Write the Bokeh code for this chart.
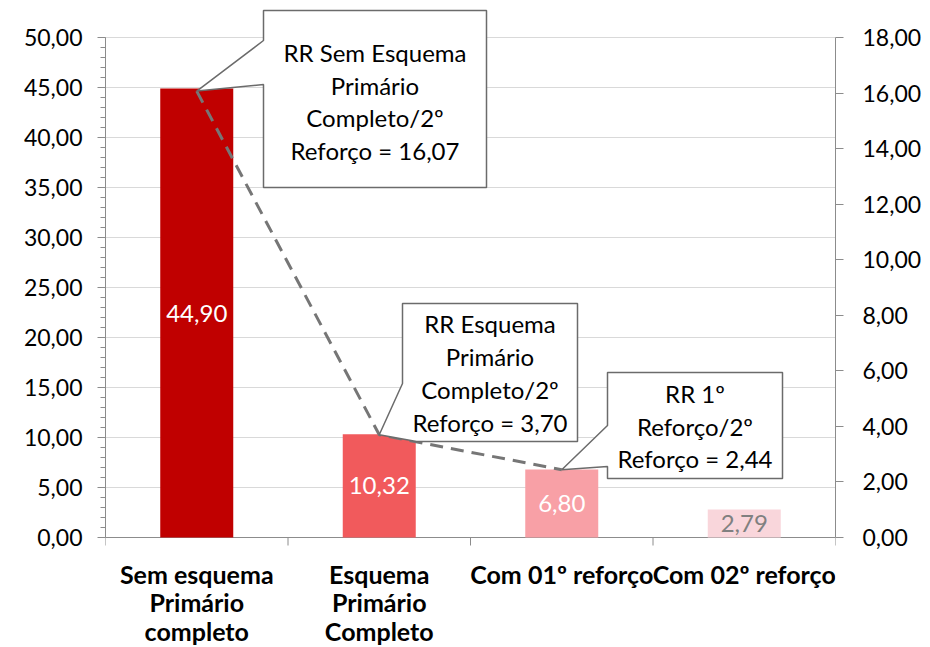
from bokeh.plotting import figure
from bokeh.models import (Range1d, LinearAxis, FixedTicker, CustomJSTickFormatter,
                          ColumnDataSource)
from bokeh.embed import file_html
from bokeh.resources import INLINE
from bokeh.core.properties import value

# ---------------- data ----------------
categories = ["Sem esquema\nPrimário\ncompleto", "Esquema\nPrimário\nCompleto",
              "Com 01º reforço", "Com 02º reforço"]
incidence = [44.90, 10.32, 6.80, 2.79]
bar_colors = ["#C00000", "#F15A5C", "#F8A0A6", "#F9D6DB"]
bar_label_colors = ["#FFFFFF", "#FFFFFF", "#FFFFFF", "#808080"]
rr_values = [16.07, 3.70, 2.44]
rr_texts = [["RR Sem Esquema", "Primário", "Completo/2º", "Reforço = 16,07"],
            ["RR Esquema", "Primário", "Completo/2º", "Reforço = 3,70"],
            ["RR 1º", "Reforço/2º", "Reforço = 2,44"]]
left_ticks = [0, 5, 10, 15, 20, 25, 30, 35, 40, 45, 50]
left_minor = list(range(0, 51))
right_ticks = [0, 2, 4, 6, 8, 10, 12, 14, 16, 18]

FONT = "Lato"
FS = "23px"
FS_BIG = "24px"
FS_CAT = "25px"
GRAY = "#8C8C8C"

# ---------------- page-pixel helpers (layout only) ----------------
W, H = 930, 647
FRAME_L, FRAME_R, FRAME_B, UNIT_PX = 105.0, 835.0, 537.0, 10.0
CAT_PX = (FRAME_R - FRAME_L) / 4
def dx(px):
    return (px - FRAME_L) / CAT_PX - 0.5
def dy(py):
    return (FRAME_B - py) / UNIT_PX

LEFT_MAX, RIGHT_MAX = 50.0, 18.0
scale_r = LEFT_MAX / RIGHT_MAX
y_lo, y_hi = dy(H), dy(0)

p = figure(width=W, height=H, output_backend="svg", toolbar_location=None,
           x_range=Range1d(-0.5, 3.5), y_range=Range1d(y_lo, y_hi),
           x_axis_location=None,
           min_border_left=int(FRAME_L), min_border_right=int(W - FRAME_R),
           min_border_top=0, min_border_bottom=0)
p.outline_line_color = None
p.background_fill_color = "white"
p.border_fill_color = "white"
p.extra_y_ranges = {"rr": Range1d(y_lo / scale_r, y_hi / scale_r)}

fmt = CustomJSTickFormatter(code="return tick.toFixed(2).replace('.', ',');")

# left axis
ya = p.yaxis[0]
ya.ticker = FixedTicker(ticks=left_ticks, minor_ticks=left_minor)
ya.formatter = fmt
ya.bounds = (0, 50)
ya.axis_line_color = GRAY
ya.major_tick_line_color = GRAY
ya.minor_tick_line_color = GRAY
ya.major_tick_out = 8
ya.major_tick_in = 0
ya.minor_tick_out = 5
ya.minor_tick_in = 0
ya.major_label_standoff = 15
ya.major_label_text_font = FONT
ya.major_label_text_font_size = FS
ya.major_label_text_color = "#000000"

# right axis
ra = LinearAxis(y_range_name="rr", ticker=FixedTicker(ticks=right_ticks, minor_ticks=[]),
                formatter=fmt, bounds=(0, 18))
ra.axis_line_color = GRAY
ra.major_tick_line_color = GRAY
ra.minor_tick_line_color = None
ra.major_tick_out = 8
ra.major_tick_in = 0
ra.major_label_standoff = 19
ra.major_label_text_font = FONT
ra.major_label_text_font_size = FS
ra.major_label_text_color = "#000000"
p.add_layout(ra, "right")

p.xgrid.visible = False
p.ygrid.ticker = FixedTicker(ticks=left_ticks)
p.ygrid.grid_line_color = "#D9D9D9"

# category axis (line + boundary ticks) drawn in data space
n = len(categories)
bounds_x = [k - 0.5 for k in range(n + 1)]
p.segment(x0=[-0.5], y0=[0], x1=[n - 0.5], y1=[0], line_color=GRAY, line_width=1)
p.segment(x0=bounds_x, y0=[0] * len(bounds_x), x1=bounds_x,
          y1=[-8 / UNIT_PX] * len(bounds_x), line_color=GRAY, line_width=1)

# bars
xs = list(range(n))
bar_src = ColumnDataSource(dict(x=xs, top=incidence, color=bar_colors,
                                ymid=[v / 2 for v in incidence],
                                lab=[f"{v:.2f}".replace(".", ",") for v in incidence],
                                lcol=bar_label_colors))
p.vbar(x="x", top="top", bottom=0, width=0.4, fill_color="color", line_color=None,
       source=bar_src)
p.text(x="x", y="ymid", text="lab", text_color="lcol", text_align="center",
       text_baseline="middle", text_font=value(FONT), text_font_size=value(FS_BIG),
       source=bar_src)

# dashed RR line
p.line(x=xs[:len(rr_values)], y=rr_values, y_range_name="rr", line_color="#767676",
       line_width=3, line_dash="13 8")

# callouts (box geometry in page pixels)
boxes = [
    dict(l=263, t=10, r=486, b=187, first=52, step=32.5),
    dict(l=402, t=303, r=577, b=441, first=323, step=33),
    dict(l=607, t=372, r=782, b=478, first=393, step=32.5),
]
for i, (bx, rr, lines) in enumerate(zip(boxes, rr_values, rr_texts)):
    tip = (float(i), rr * scale_r)
    L, T, R, B = dx(bx["l"]), dy(bx["t"]), dx(bx["r"]), dy(bx["b"])
    if i == 0:
        pts = [(L, T), (R, T), (R, B), (L, B), (L, dy(84)), tip, (L, dy(40))]
    elif i == 1:
        pts = [(L, T), (R, T), (R, B), (dx(416), B), tip, (L, dy(383))]
    else:
        pts = [(L, T), (R, T), (R, B), (L, B), (L, dy(466)), tip, (L, dy(425))]
    p.patch(x=[q[0] for q in pts], y=[q[1] for q in pts], fill_color="white",
            line_color="#6B6B6B", line_width=1.5)
    cx = (L + R) / 2
    ys = [dy(bx["first"] + k * bx["step"]) for k in range(len(lines))]
    p.text(x=[cx] * len(lines), y=ys, text=lines, text_align="center",
           text_baseline="middle", text_font=value(FONT), text_font_size=value(FS_BIG),
           text_color="#000000")

# category labels below the axis
cx_list, cy_list, ct_list = [], [], []
for i, cat in enumerate(categories):
    for k, line in enumerate(cat.split("\n")):
        cx_list.append(i)
        cy_list.append(dy(573 + k * 28.5))
        ct_list.append(line)
p.text(x=cx_list, y=cy_list, text=ct_list, text_align="center", text_baseline="middle",
       text_font=value(FONT), text_font_size=value(FS_CAT), text_font_style=value("bold"),
       text_color="#000000")

open("out.html", "w").write(file_html(p, INLINE))
